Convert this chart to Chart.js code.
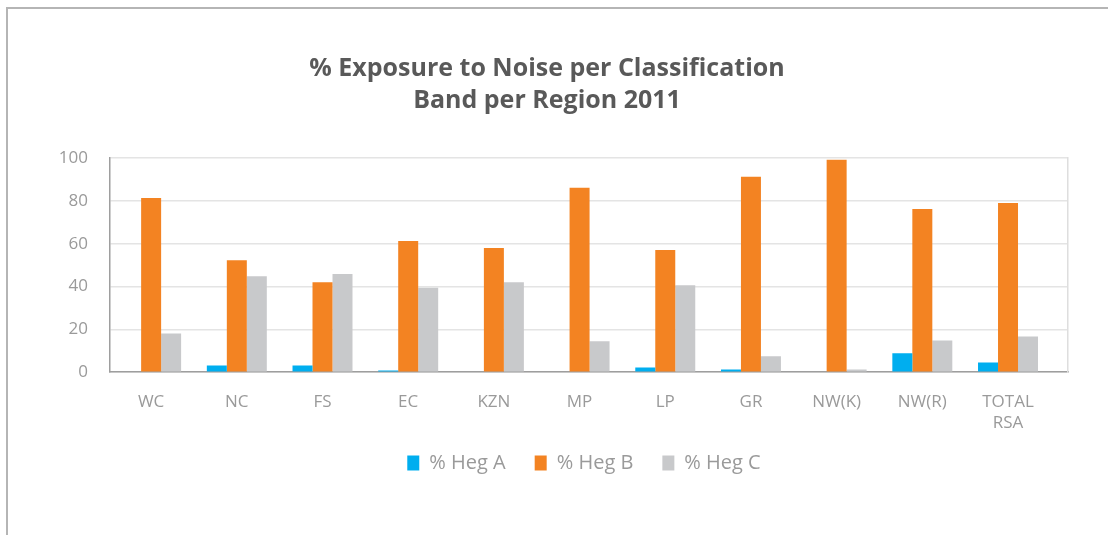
<!DOCTYPE html>
<html>
<head>
<meta charset="utf-8">
<title>% Exposure to Noise per Classification Band per Region 2011</title>
<script src="https://cdn.jsdelivr.net/npm/chart.js@4/dist/chart.umd.min.js"></script>
<style>
  html, body { margin: 0; padding: 0; background: #ffffff; }
  #wrap { position: relative; width: 1108px; height: 535px; overflow: hidden; }
  #frame { position: absolute; left: 6px; top: 7px; right: -4px; bottom: -4px;
           border-left: 2px solid #b5b5b5; border-top: 2px solid #b5b5b5; }
  #c { position: absolute; left: 0; top: 0; }
</style>
</head>
<body>
<div id="wrap">
  <div id="frame"></div>
  <canvas id="c" width="1108" height="535"></canvas>
</div>
<script>
// Regions and the share of exposure in each noise classification band
const regions = ['WC', 'NC', 'FS', 'EC', 'KZN', 'MP', 'LP', 'GR', 'NW(K)', 'NW(R)', ['TOTAL', 'RSA']];
const hegA = [0, 3.1, 3.1, 0.8, 0, 0, 2.2, 1.3, 0, 8.8, 4.5];
const hegB = [81.3, 52.3, 42.0, 61.2, 58.0, 86.1, 57.0, 91.2, 99.2, 76.2, 79.0];
const hegC = [18.1, 44.8, 45.8, 39.4, 42.0, 14.4, 40.6, 7.4, 1.3, 14.8, 16.7];
const yTicks = [0, 20, 40, 60, 80, 100];
const titleLines = ['% Exposure to Noise per Classification', 'Band per Region 2011'];

const FONT = "'Open Sans', 'DejaVu Sans', sans-serif";
const TEXT_GREY = '#9a9a9a';

// Region positions along a numeric axis; the plot leaves some empty room after the last group
const positions = regions.map((_, i) => i);

// Pull the legend up so it sits close under the two-line category labels
const legendLift = {
  id: 'legendLift',
  afterLayout(chart) {
    const lg = chart.legend;
    if (!lg) return;
    lg.top -= 29;
    lg.bottom -= 29;
    lg.left -= 5;
    lg.right -= 5;
  }
};

new Chart(document.getElementById('c'), {
  type: 'bar',
  data: {
    labels: positions,
    datasets: [
      { label: '% Heg A', data: hegA, backgroundColor: '#00aeef' },
      { label: '% Heg B', data: hegB, backgroundColor: '#f38322' },
      { label: '% Heg C', data: hegC, backgroundColor: '#c8c9cb' }
    ]
  },
  plugins: [legendLift],
  options: {
    responsive: false,
    animation: false,
    devicePixelRatio: 1,
    layout: { padding: { left: 26, right: 40, top: 53, bottom: 23 } },
    datasets: { bar: { categoryPercentage: 0.70, barPercentage: 1.0 } },
    plugins: {
      tooltip: { enabled: false },
      title: {
        display: true,
        text: titleLines,
        color: '#595959',
        font: { family: FONT, size: 25, weight: 'bold', lineHeight: 1.28 },
        padding: { top: 0, bottom: 41 }
      },
      legend: {
        position: 'bottom',
        fullSize: false,
        labels: {
          color: TEXT_GREY,
          font: { family: FONT, size: 20 },
          boxWidth: 12,
          boxHeight: 15,
          padding: 29
        }
      }
    },
    scales: {
      x: {
        type: 'linear',
        offset: false,
        min: -0.48,
        max: 10.7,
        afterBuildTicks: (scale) => { scale.ticks = positions.map(v => ({ value: v })); },
        grid: { display: false, drawTicks: false, offset: false },
        border: { color: '#9e9e9e', width: 1.5 },
        ticks: {
          color: TEXT_GREY,
          font: { family: FONT, size: 17 },
          padding: 20,
          maxRotation: 0,
          autoSkip: false,
          callback: (v) => regions[v]
        }
      },
      y: {
        min: 0,
        max: 100,
        afterFit: (scale) => { scale.width = 84; },
        afterBuildTicks: (scale) => { scale.ticks = yTicks.map(v => ({ value: v })); },
        grid: { color: '#e4e4e4', lineWidth: 1.5, drawTicks: false },
        border: { color: '#9e9e9e', width: 1.5 },
        ticks: {
          color: TEXT_GREY,
          font: { family: FONT, size: 17 },
          padding: 22
        }
      },
      yEdge: {
        position: 'right',
        min: 0,
        max: 100,
        afterFit: (scale) => { scale.width = 0; },
        grid: { display: false, drawTicks: false },
        border: { color: '#dedede', width: 1.5 },
        ticks: { display: false }
      }
    }
  }
});
</script>
</body>
</html>
